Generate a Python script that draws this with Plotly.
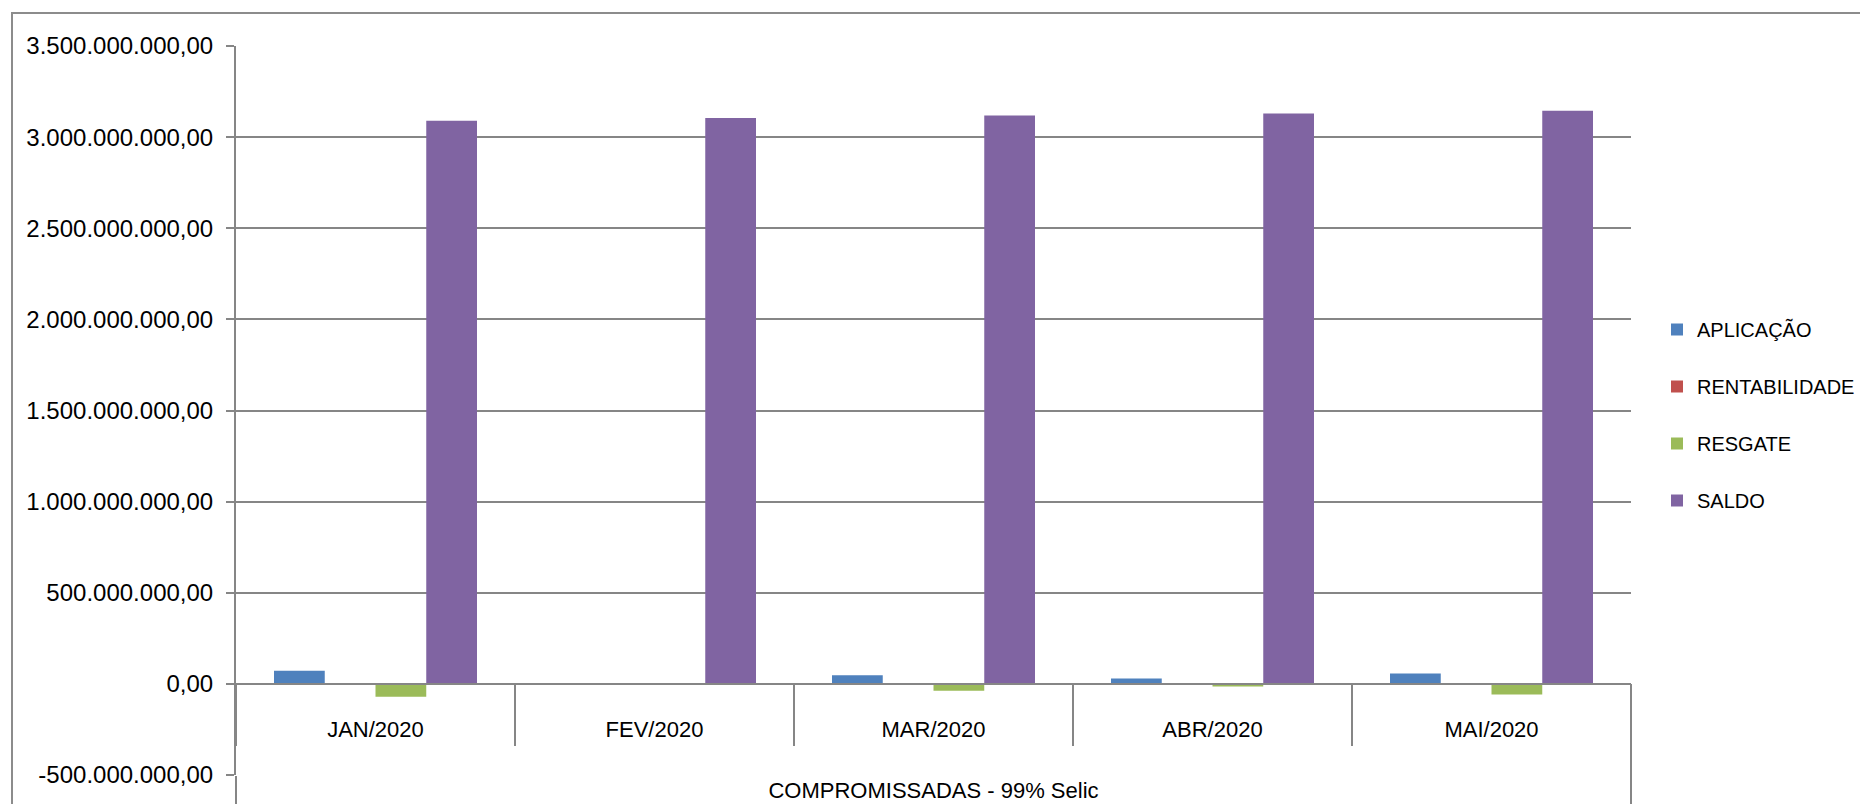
import plotly.graph_objects as go

categories = ["JAN/2020", "FEV/2020", "MAR/2020", "ABR/2020", "MAI/2020"]
group_label = ["COMPROMISSADAS - 99% Selic"]
series_names = ["APLICAÇÃO", "RENTABILIDADE", "RESGATE", "SALDO"]
aplicacao = [72e6, 2e6, 48e6, 30e6, 57e6]
rentabilidade = [4e6, 4e6, 4e6, 4e6, 4e6]
resgate = [-70e6, -2e6, -38e6, -15e6, -58e6]
saldo = [3.090e9, 3.105e9, 3.118e9, 3.130e9, 3.145e9]
colors = ["#4F81BD", "#C0504D", "#9BBB59", "#8064A2"]
y_ticks = [-5e8, 0, 5e8, 1e9, 1.5e9, 2e9, 2.5e9, 3e9, 3.5e9]


def fmt(v):
    s = f"{abs(v):,.2f}".replace(",", "X").replace(".", ",").replace("X", ".")
    return ("-" if v < 0 else "") + s


y_ticktext = [fmt(v) for v in y_ticks]

FONT = "Liberation Sans, Arial, sans-serif"
FS = 22
GRID = "#868686"

fig = go.Figure()
for name, vals, col in zip(series_names, [aplicacao, rentabilidade, resgate, saldo], colors):
    fig.add_trace(go.Bar(x=categories, y=vals, name=name, marker=dict(color=col, line=dict(width=0)),
                         legendgroup=name))

fig.add_trace(go.Scatter(x=group_label, y=[None], xaxis="x2", yaxis="y", showlegend=False,
                         hoverinfo="skip", mode="markers"))

W, H = 1868, 804
L, R, T, B = 228, 245, 38, 37
pw = W - L - R
ph = H - T - B

fig.update_layout(
    width=W, height=H,
    margin=dict(l=L, r=R, t=T, b=B, pad=0, autoexpand=False),
    paper_bgcolor="white", plot_bgcolor="white",
    barmode="group", bargap=0.2724, bargroupgap=0,
    font=dict(family=FONT, size=FS, color="#000000"),
    showlegend=True,
    legend=dict(x=(1649 - L) / pw, y=(H - B - 407) / ph, xanchor="left", yanchor="middle",
                traceorder="grouped", tracegroupgap=28, font=dict(size=20, family=FONT),
                bgcolor="rgba(0,0,0,0)", itemclick=False),
    xaxis=dict(type="category", categoryorder="array", categoryarray=categories,
               range=[-0.5, len(categories) - 0.5], automargin=False,
               anchor="free", position=0.125, showline=True, linecolor=GRID, linewidth=2,
               showgrid=False, zeroline=False, ticks="outside", tickson="boundaries",
               ticklen=61, tickwidth=2, tickcolor=GRID, ticklabelstandoff=26,
               tickfont=dict(size=FS, family=FONT)),
    xaxis2=dict(type="category", overlaying="x", anchor="y", side="bottom", automargin=False,
                categoryorder="array", categoryarray=group_label, range=[-0.5, 0.5],
                showline=False, showgrid=False, zeroline=False, ticks="outside",
                tickson="boundaries", ticklen=28, tickwidth=2, tickcolor=GRID,
                ticklabelstandoff=0, tickfont=dict(size=FS, family=FONT)),
    yaxis=dict(range=[-5e8, 3.5e9], tickvals=y_ticks, ticktext=y_ticktext, automargin=False,
               showline=True, linecolor=GRID, linewidth=2, showgrid=True, gridcolor=GRID,
               gridwidth=2, zeroline=True, zerolinecolor=GRID, zerolinewidth=2,
               ticks="outside", ticklen=8, tickwidth=2, tickcolor=GRID, ticklabelstandoff=8,
               tickfont=dict(size=24, family=FONT)),
)

# chart-area frame and right closing edge of the category box
fig.add_shape(type="rect", xref="paper", yref="paper",
              x0=(4 - L) / pw, x1=(W + 20 - L) / pw,
              y0=(H - B - (H + 20)) / ph, y1=(H - B - 5) / ph,
              line=dict(color="#8c8c8c", width=2), fillcolor="rgba(0,0,0,0)", layer="below")
fig.add_shape(type="line", xref="paper", yref="paper", x0=1, x1=1,
              y0=-28 / ph, y1=0.125, line=dict(color=GRID, width=2), layer="above")

fig.write_html("out.html")
